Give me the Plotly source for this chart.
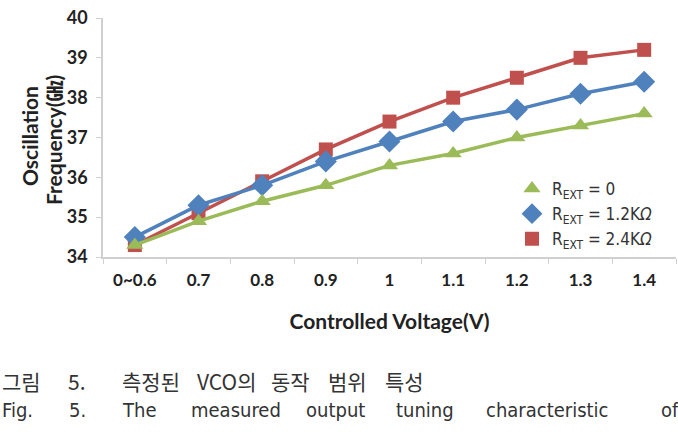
import plotly.graph_objects as go

categories = ["0~0.6", "0.7", "0.8", "0.9", "1", "1.1", "1.2", "1.3", "1.4"]
rext_0 = [34.3, 34.9, 35.4, 35.8, 36.3, 36.6, 37.0, 37.3, 37.6]
rext_12k = [34.5, 35.3, 35.8, 36.4, 36.9, 37.4, 37.7, 38.1, 38.4]
rext_24k = [34.3, 35.1, 35.9, 36.7, 37.4, 38.0, 38.5, 39.0, 39.2]
y_ticks = [34, 35, 36, 37, 38, 39, 40]

W, H = 678, 432
L, R, T, B = 103, 2, 18, 175
PW, PH = W - L - R, H - T - B

def px(x):
    return (x - L) / PW

def py(y):
    return (H - B - y) / PH

series = [
    ("R<sub>EXT</sub> = 2.4K<i>Ω</i>", rext_24k, "#C0504D", "square", 14, 3),
    ("R<sub>EXT</sub> = 1.2K<i>Ω</i>", rext_12k, "#4F81BD", "diamond", 17, 2),
    ("R<sub>EXT</sub> = 0", rext_0, "#9BBB59", "triangle-up", 15, 1),
]

fig = go.Figure()
for name, vals, col, sym, sz, rank in series:
    fig.add_trace(go.Scatter(x=categories, y=vals, mode="lines+markers",
                             showlegend=False,
                             line=dict(color=col, width=3.5),
                             marker=dict(symbol=sym, size=sz, color=col)))
for name, vals, col, sym, sz, rank in series:
    fig.add_trace(go.Scatter(x=[None], y=[None], mode="markers", name=name,
                             legendrank=rank,
                             marker=dict(symbol=sym, size=sz, color=col)))

fig.update_layout(
    width=W, height=H,
    margin=dict(l=L, r=R, t=T, b=B),
    paper_bgcolor="white", plot_bgcolor="white",
    font=dict(family="Lato, 'Open Sans', sans-serif", color="#222"),
    showlegend=True,
    legend=dict(x=px(512), y=py(171), xanchor="left", yanchor="top",
                font=dict(family="'Liberation Sans Narrow', 'DejaVu Sans Condensed', sans-serif", size=17, color="#333"),
                bgcolor="rgba(0,0,0,0)", tracegroupgap=0, itemwidth=30,
                traceorder="normal"),
    xaxis=dict(type="category", range=[-0.5, 8.5], showgrid=False,
               showline=True, linecolor="#d0d0d0", linewidth=1.5,
               ticks="outside", tickson="boundaries", tickcolor="#d0d0d0", ticklen=5,
               tickfont=dict(family="Lato, sans-serif", size=17, color="#222", weight="bold"),
               ticklabelstandoff=7,
               title=dict(text="<b>Controlled Voltage(V)</b>", standoff=25,
                          font=dict(family="Lato, sans-serif", size=21, color="#222"))),
    yaxis=dict(range=[34, 40], tickvals=y_ticks, showgrid=False, zeroline=False,
               showline=True, linecolor="#d0d0d0", linewidth=1.5,
               ticks="outside", tickcolor="#d0d0d0", ticklen=5,
               tickfont=dict(family="Lato, sans-serif", size=18, color="#222", weight="bold"),
               ticklabelstandoff=5),
)

ytitle_font = dict(family="Lato, 'Noto Sans CJK KR', sans-serif", size=21, color="#222")
for txt, xc, yc in [("<b>Oscillation</b>", 29, 136), ("<b>Frequency(㎓)</b>", 53, 140)]:
    fig.add_annotation(text=txt, textangle=-90,
                       xref="paper", yref="paper", x=px(xc), y=py(yc),
                       xanchor="center", yanchor="middle", showarrow=False,
                       font=ytitle_font)

cap_font = dict(family="'Noto Sans CJK KR', sans-serif", size=21, color="#333")
kor_words = [("그림", 0), ("5.", 66), ("측정된", 120), ("VCO의", 195), ("동작", 269), ("범위", 326), ("특성", 383)]
for w, x0 in kor_words:
    fig.add_annotation(text=w, xref="paper", yref="paper", x=px(x0), y=py(381),
                       xanchor="left", yanchor="middle", showarrow=False, font=cap_font)

eng_font = dict(family="'Liberation Sans Narrow', 'DejaVu Sans Condensed', sans-serif", size=20, color="#333")
eng_words = [("Fig.", 0), ("5.", 67), ("The", 120), ("measured", 189), ("output", 304),
             ("tuning", 394), ("characteristic", 484), ("of", 659)]
for w, x0 in eng_words:
    fig.add_annotation(text=w, xref="paper", yref="paper", x=px(x0), y=py(410),
                       xanchor="left", yanchor="middle", showarrow=False, font=eng_font)

fig.write_html("out.html")
